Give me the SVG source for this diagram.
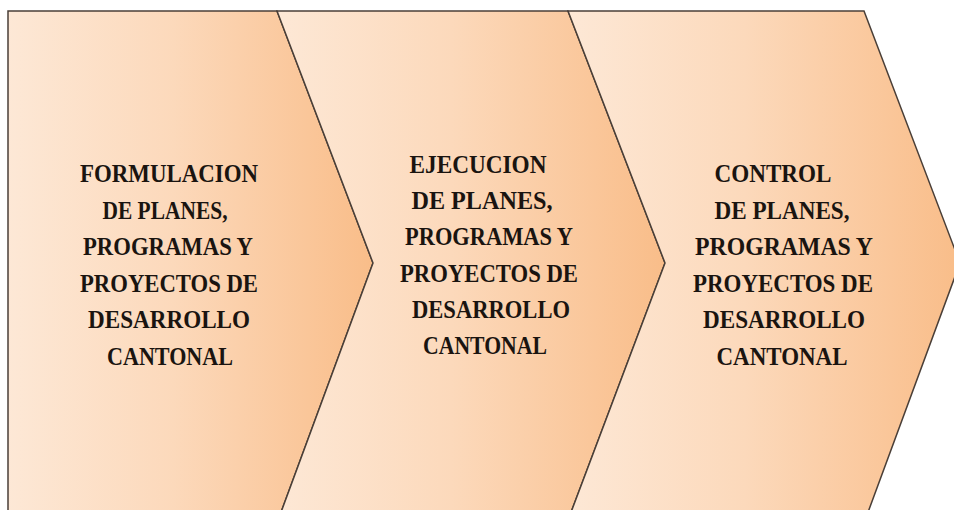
<svg xmlns="http://www.w3.org/2000/svg" width="954" height="510" viewBox="0 0 954 510">
<defs>
<linearGradient id="peach" x1="0" y1="0" x2="1" y2="0">
<stop offset="0" stop-color="#fde8d6"/>
<stop offset="0.45" stop-color="#fcd9bb"/>
<stop offset="1" stop-color="#f9bd89"/>
</linearGradient>
<style>
.shape{fill:url(#peach);stroke:#4a3f38;stroke-width:1.5;stroke-linejoin:miter}
.t{font-family:"Liberation Serif","Times New Roman",serif;font-weight:bold;font-size:26px;fill:#1a1410;text-anchor:middle}
</style>
</defs>
<rect width="954" height="510" fill="#ffffff"/>
<g id="step1">
<polygon class="shape" points="8,11 277,11 373,263 280,515 8,515"/>
<text class="t" x="169" y="182" textLength="178" lengthAdjust="spacingAndGlyphs">FORMULACION</text>
<text class="t" x="165" y="219" textLength="125" lengthAdjust="spacingAndGlyphs">DE PLANES,</text>
<text class="t" x="168" y="255" textLength="170" lengthAdjust="spacingAndGlyphs">PROGRAMAS Y</text>
<text class="t" x="169" y="292" textLength="178" lengthAdjust="spacingAndGlyphs">PROYECTOS DE</text>
<text class="t" x="169" y="328" textLength="162" lengthAdjust="spacingAndGlyphs">DESARROLLO</text>
<text class="t" x="170" y="365" textLength="126" lengthAdjust="spacingAndGlyphs">CANTONAL</text>
</g>
<g id="step2">
<polygon class="shape" points="277,11 568,11 665,263 570,515 280,515 373,263"/>
<text class="t" x="478" y="173" textLength="137" lengthAdjust="spacingAndGlyphs">EJECUCION</text>
<text class="t" x="482" y="209" textLength="141" lengthAdjust="spacingAndGlyphs">DE  PLANES,</text>
<text class="t" x="489" y="245" textLength="168" lengthAdjust="spacingAndGlyphs">PROGRAMAS Y</text>
<text class="t" x="489" y="282" textLength="178" lengthAdjust="spacingAndGlyphs">PROYECTOS DE</text>
<text class="t" x="491" y="318" textLength="158" lengthAdjust="spacingAndGlyphs">DESARROLLO</text>
<text class="t" x="485" y="354" textLength="124" lengthAdjust="spacingAndGlyphs">CANTONAL</text>
</g>
<g id="step3">
<polygon class="shape" points="568,11 864,11 960,263 867,515 570,515 665,263"/>
<text class="t" x="773" y="182" textLength="117" lengthAdjust="spacingAndGlyphs">CONTROL</text>
<text class="t" x="782" y="219" textLength="135" lengthAdjust="spacingAndGlyphs">DE PLANES,</text>
<text class="t" x="784" y="255" textLength="178" lengthAdjust="spacingAndGlyphs">PROGRAMAS Y</text>
<text class="t" x="783" y="292" textLength="180" lengthAdjust="spacingAndGlyphs">PROYECTOS DE</text>
<text class="t" x="784" y="328" textLength="162" lengthAdjust="spacingAndGlyphs">DESARROLLO</text>
<text class="t" x="782" y="365" textLength="131" lengthAdjust="spacingAndGlyphs">CANTONAL</text>
</g>
<g id="connectors"></g>
</svg>
